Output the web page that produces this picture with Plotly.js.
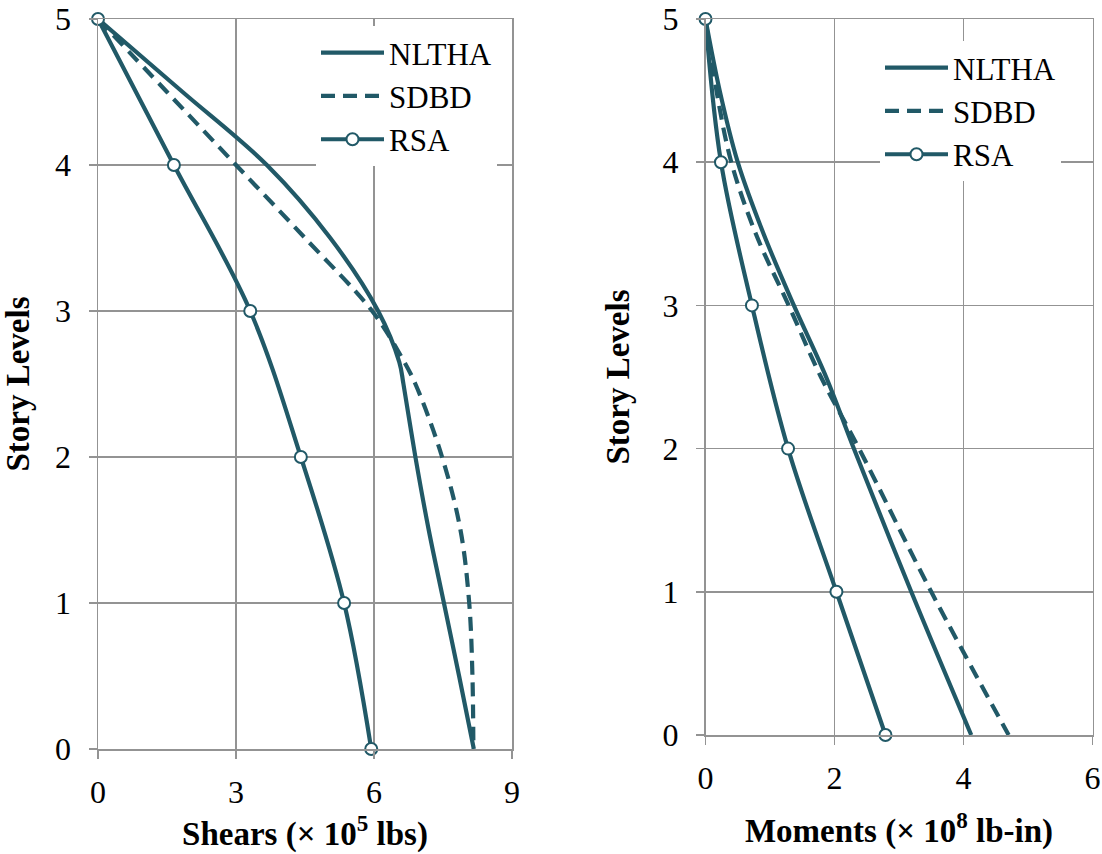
<!DOCTYPE html>
<html>
<head>
<meta charset="utf-8">
<script src="https://cdn.plot.ly/plotly-3.0.1.min.js"></script>
<style>
  html, body { margin: 0; padding: 0; background: #ffffff; }
  #chart { width: 1102px; height: 854px; }
</style>
</head>
<body>
<div id="chart"></div>
<script>
// ---------- data ----------
// Left panel: Shears (x 10^5 lbs) vs story level
const shearNlthaLevel = [5, 4.5, 4, 3.5, 3, 2.65, 2.5, 2, 1.5, 1, 0.5, 0];
const shearNlthaValue = [0, 1.84, 3.67, 5.05, 6.09, 6.55, 6.64, 6.90, 7.19, 7.52, 7.85, 8.17];

const shearSdbdLevel = [5, 4.5, 4, 3.5, 3, 2.7, 2.5, 2, 1.5, 1, 0.5, 0];
const shearSdbdValue = [0, 1.5, 3.0, 4.5, 5.96, 6.57, 6.9, 7.48, 7.88, 8.07, 8.14, 8.16];

const rsaLevel = [0, 1, 2, 3, 4, 5];
const shearRsaValue = [5.94, 5.35, 4.41, 3.31, 1.65, 0];

// Right panel: Moments (x 10^8 lb-in) vs story level
const momentNlthaLevel = [5, 4.5, 4, 3.5, 3, 2.5, 2, 1, 0];
const momentNlthaValue = [0, 0.22, 0.50, 0.90, 1.37, 1.87, 2.30, 3.19, 4.12];

const momentSdbdLevel = [5, 4.5, 4, 3.5, 3, 2.5, 2, 1, 0];
const momentSdbdValue = [0, 0.17, 0.40, 0.78, 1.29, 1.79, 2.38, 3.50, 4.70];

const momentRsaValue = [2.79, 2.03, 1.28, 0.72, 0.24, 0];

const seriesNames = ['NLTHA', 'SDBD', 'RSA'];
const shearTicks = [0, 3, 6, 9];
const momentTicks = [0, 2, 4, 6];
const levelTicks = [0, 1, 2, 3, 4, 5];

// ---------- styling ----------
const teal = '#215967';
const grid = '#939393';
const serif = 'Liberation Serif';
const W = 1102, H = 854;

function lineTrace(x, y, name, dash, xa, ya, lg, markers) {
  const t = {
    x: x, y: y, name: name, type: 'scatter',
    mode: markers ? 'lines+markers' : 'lines',
    line: { color: teal, width: 4.2, dash: dash, shape: 'spline', smoothing: 1 },
    xaxis: xa, yaxis: ya, legend: lg, legendgroup: lg + name,
    cliponaxis: false, hoverinfo: 'skip'
  };
  if (markers) {
    t.marker = { symbol: 'circle', size: 12, color: '#ffffff', line: { color: teal, width: 2 } };
  }
  return t;
}

const traces = [
  lineTrace(shearNlthaValue, shearNlthaLevel, seriesNames[0], 'solid', 'x', 'y', 'legend', false),
  lineTrace(shearSdbdValue, shearSdbdLevel, seriesNames[1], '14px,8px', 'x', 'y', 'legend', false),
  lineTrace(shearRsaValue, rsaLevel, seriesNames[2], 'solid', 'x', 'y', 'legend', true),
  lineTrace(momentNlthaValue, momentNlthaLevel, seriesNames[0], 'solid', 'x2', 'y2', 'legend2', false),
  lineTrace(momentSdbdValue, momentSdbdLevel, seriesNames[1], '14px,8px', 'x2', 'y2', 'legend2', false),
  lineTrace(momentRsaValue, rsaLevel, seriesNames[2], 'solid', 'x2', 'y2', 'legend2', true)
];

const tickFont = { family: serif, size: 32, color: '#000000' };
const titleFont = { family: serif, size: 33, color: '#000000', weight: 'bold' };

function xAxis(domain, range, ticks, title, anchor, standoff) {
  return {
    domain: domain, range: range, tickvals: ticks, ticktext: ticks.map(String),
    anchor: anchor, showgrid: true, gridcolor: grid, gridwidth: 1.5,
    showline: true, linecolor: grid, linewidth: 1.5, mirror: true,
    ticks: 'outside', ticklen: 8, tickwidth: 1.5, tickcolor: grid,
    ticklabelstandoff: 6,
    zeroline: false, tickfont: tickFont, fixedrange: true,
    title: { text: title, font: titleFont, standoff: standoff }
  };
}
function yAxis(domain, anchor) {
  return {
    domain: domain, range: [0, 5], tickvals: levelTicks, ticktext: levelTicks.map(String),
    anchor: anchor, showgrid: true, gridcolor: grid, gridwidth: 1.5,
    showline: true, linecolor: grid, linewidth: 1.5, mirror: true,
    ticks: 'outside', ticklen: 8, tickwidth: 1.5, tickcolor: grid,
    ticklabelstandoff: 11,
    zeroline: false, tickfont: tickFont, fixedrange: true,
    title: { text: 'Story Levels', font: titleFont }
  };
}

const legendBase = {
  xanchor: 'left', yanchor: 'top', bgcolor: '#ffffff', borderwidth: 0,
  font: { family: serif, size: 31, color: '#000000' },
  itemwidth: 63, tracegroupgap: 0, traceorder: 'grouped'
};

const layout = {
  width: W, height: H,
  margin: { l: 0, r: 0, t: 0, b: 0 },
  paper_bgcolor: '#ffffff', plot_bgcolor: '#ffffff',
  showlegend: true,
  xaxis: xAxis([98 / W, 512 / W], [0, 9], shearTicks, 'Shears (× 10<sup>5</sup> lbs)', 'y', 13),
  yaxis: yAxis([(H - 749) / H, (H - 19) / H], 'x'),
  xaxis2: xAxis([705.5 / W, 1092.5 / W], [0, 6], momentTicks, 'Moments (× 10<sup>8</sup> lb-in)', 'y2', 24),
  yaxis2: yAxis([(H - 735) / H, (H - 19) / H], 'x2'),
  legend: Object.assign({}, legendBase, { x: 316 / W, y: 1 - 26 / H }),
  legend2: Object.assign({}, legendBase, { x: 880 / W, y: 1 - 41 / H })
};

Plotly.newPlot('chart', traces, layout, { staticPlot: true, displayModeBar: false });
</script>
</body>
</html>
